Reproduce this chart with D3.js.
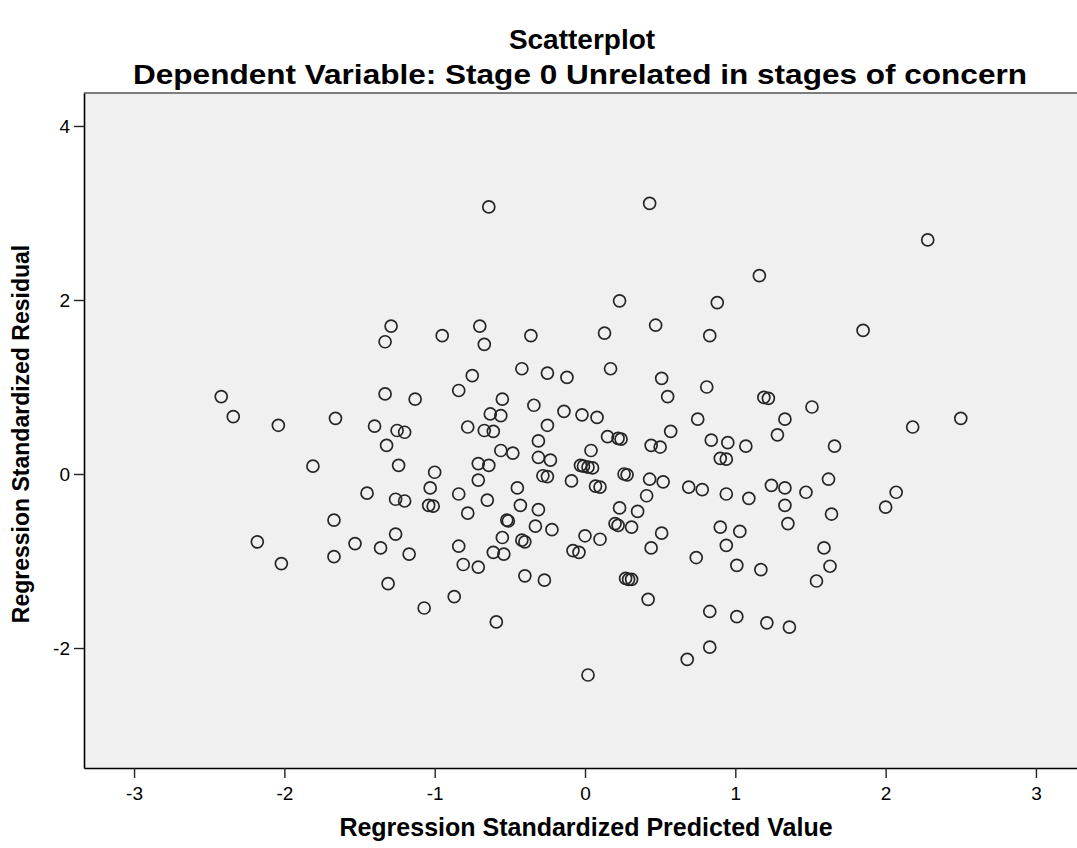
<!DOCTYPE html>
<html>
<head>
<meta charset="utf-8">
<script src="https://cdn.jsdelivr.net/npm/d3@7"></script>
<style>
  html, body { margin: 0; padding: 0; background: #ffffff; }
  svg { display: block; }
  text { font-family: "Liberation Sans", Arial, sans-serif; fill: #000; }
</style>
</head>
<body>
<svg id="chart" width="1077" height="848"></svg>
<script>
// Regression standardized predicted values (x) and residuals (y)
const predicted = [
  -1.29,-1.33,-0.95,-0.64,0.43,0.23,-0.70,-0.67,-0.36,0.13,0.47,0.83,2.28,1.16,0.88,1.85,
  -2.42,-2.34,-2.04,-1.66,-1.33,-1.13,-0.84,-1.40,-1.25,-1.20,-1.32,-1.81,-1.24,-1.00,-1.03,-1.45,
  -1.26,-1.20,-1.04,-1.01,-0.84,-1.67,-0.42,-0.75,-0.25,-0.12,0.17,0.51,0.81,0.55,-0.55,-0.34,
  -0.63,-0.56,-0.14,-0.02,0.08,0.75,-0.78,-0.25,-0.67,-0.61,0.57,0.15,0.22,0.24,-0.31,0.84,
  0.44,0.50,-0.56,-0.48,0.04,-0.31,-0.23,-0.71,-0.64,-0.03,-0.01,0.02,0.05,-0.28,-0.25,-0.09,
  0.26,0.28,0.43,0.52,0.69,0.78,-0.71,-0.45,0.07,0.10,-0.65,-0.43,-0.31,0.41,0.23,0.35,
  -0.78,-0.51,-0.52,1.19,1.22,1.51,1.33,2.18,2.50,1.28,0.95,1.07,1.66,0.90,0.94,0.94,
  1.09,1.24,1.33,1.47,1.62,2.07,2.00,1.33,1.64,-2.18,-2.02,-1.67,-1.53,-1.26,-1.36,-1.17,
  -1.31,-1.07,-0.87,-0.84,-0.81,-0.33,-0.22,-0.55,-0.42,-0.40,-0.61,-0.54,-0.71,-0.40,-0.27,-0.59,
  0.00,0.10,-0.08,-0.04,0.20,0.22,0.31,0.51,0.44,0.74,0.27,0.29,0.31,0.42,0.83,0.83,
  0.68,0.02,0.90,1.03,1.35,0.94,1.01,1.17,1.59,1.63,1.54,1.01,1.21,1.36
];
const residual = [
  1.70,1.52,1.59,3.07,3.11,1.99,1.70,1.49,1.59,1.62,1.71,1.59,2.69,2.28,1.97,1.65,
  0.89,0.66,0.56,0.64,0.92,0.86,0.96,0.55,0.50,0.48,0.33,0.09,0.10,0.02,-0.16,-0.22,
  -0.29,-0.31,-0.36,-0.37,-0.23,-0.53,1.21,1.13,1.16,1.11,1.21,1.10,1.00,0.89,0.86,0.79,
  0.69,0.67,0.72,0.68,0.65,0.63,0.54,0.56,0.50,0.49,0.49,0.43,0.41,0.40,0.38,0.39,
  0.33,0.31,0.27,0.24,0.27,0.19,0.16,0.12,0.10,0.10,0.09,0.08,0.07,-0.02,-0.03,-0.08,
  0.00,-0.01,-0.06,-0.09,-0.15,-0.18,-0.07,-0.16,-0.14,-0.15,-0.30,-0.36,-0.41,-0.25,-0.39,-0.43,
  -0.45,-0.54,-0.53,0.88,0.87,0.77,0.63,0.54,0.64,0.45,0.36,0.32,0.32,0.18,0.17,-0.23,
  -0.28,-0.13,-0.16,-0.21,-0.06,-0.21,-0.38,-0.36,-0.46,-0.78,-1.03,-0.95,-0.80,-0.69,-0.85,-0.92,
  -1.26,-1.54,-1.41,-0.83,-1.04,-0.60,-0.64,-0.73,-0.76,-0.78,-0.90,-0.92,-1.07,-1.17,-1.22,-1.70,
  -0.71,-0.75,-0.88,-0.90,-0.57,-0.59,-0.61,-0.68,-0.85,-0.96,-1.20,-1.21,-1.21,-1.44,-1.58,-1.99,
  -2.13,-2.31,-0.61,-0.66,-0.57,-0.82,-1.05,-1.10,-0.85,-1.06,-1.23,-1.64,-1.71,-1.76
];
const xTicks = [-3, -2, -1, 0, 1, 2, 3];
const yTicks = [-2, 0, 2, 4];
const titleText = "Scatterplot";
const subtitleText = "Dependent Variable: Stage 0 Unrelated in stages of concern";
const xLabel = "Regression Standardized Predicted Value";
const yLabel = "Regression Standardized Residual";

const points = predicted.map((p, i) => ({ x: p, y: residual[i] }));

const svg = d3.select("#chart");
const plotL = 84, plotR = 1086, plotT = 93, plotB = 768;

const x = d3.scaleLinear().domain([-3.333, 3.333]).range([plotL, plotR]);
const y = d3.scaleLinear().domain([-3.379, 4.379]).range([plotB, plotT]);

// plot background
svg.append("rect")
  .attr("x", plotL).attr("y", plotT)
  .attr("width", plotR - plotL).attr("height", plotB - plotT)
  .attr("fill", "#f0f0f0");

// points
svg.append("g")
  .selectAll("circle")
  .data(points)
  .join("circle")
  .attr("cx", d => x(d.x))
  .attr("cy", d => y(d.y))
  .attr("r", 6)
  .attr("fill", "none")
  .attr("stroke", "#262626")
  .attr("stroke-width", 1.7);

// frame top
svg.append("line").attr("x1", plotL).attr("x2", plotR).attr("y1", plotT).attr("y2", plotT)
  .attr("stroke", "#555").attr("stroke-width", 1.6);

// axes
const xAxis = d3.axisBottom(x).tickValues(xTicks).tickSize(10).tickSizeOuter(0)
  .tickFormat(d => String(d));
const gx = svg.append("g").attr("transform", `translate(0,${plotB})`).call(xAxis);
gx.select(".domain").attr("stroke", "#000").attr("stroke-width", 1.6);
gx.selectAll(".tick line").attr("stroke", "#222").attr("stroke-width", 1.4);
gx.selectAll(".tick text").attr("font-size", 19).attr("dy", "0.98em")
  .attr("font-family", "Liberation Sans, Arial, sans-serif").attr("fill", "#000");

const yAxis = d3.axisLeft(y).tickValues(yTicks).tickSize(10).tickSizeOuter(0)
  .tickFormat(d => String(d));
const gy = svg.append("g").attr("transform", `translate(${plotL},0)`).call(yAxis);
gy.select(".domain").attr("stroke", "#000").attr("stroke-width", 1.6);
gy.selectAll(".tick text").attr("font-size", 19).attr("x", -14)
  .attr("font-family", "Liberation Sans, Arial, sans-serif").attr("fill", "#000");
gy.selectAll(".tick line").attr("stroke", "#222").attr("stroke-width", 1.4);

// titles
svg.append("text").attr("x", 582).attr("y", 49).attr("text-anchor", "middle")
  .attr("font-size", 28).attr("font-weight", "bold").text(titleText);
svg.append("text").attr("x", 580).attr("y", 84).attr("text-anchor", "middle")
  .attr("font-size", 27).attr("font-weight", "bold")
  .attr("textLength", 894).attr("lengthAdjust", "spacingAndGlyphs")
  .text(subtitleText);
svg.append("text").attr("x", 586).attr("y", 836).attr("text-anchor", "middle")
  .attr("font-size", 25).attr("font-weight", "bold").text(xLabel);
svg.append("text").attr("transform", `translate(29,434) rotate(-90)`)
  .attr("text-anchor", "middle")
  .attr("font-size", 23).attr("font-weight", "bold").text(yLabel);
</script>
</body>
</html>
